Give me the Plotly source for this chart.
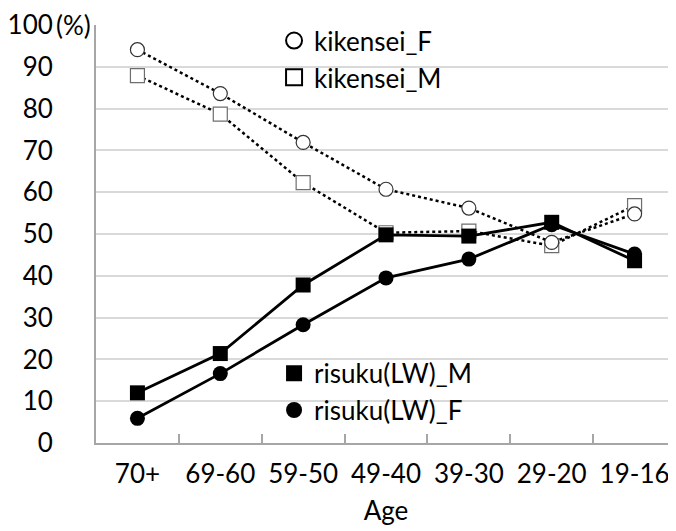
import plotly.graph_objects as go

ages = ["70+", "69-60", "59-50", "49-40", "39-30", "29-20", "19-16"]
kikensei_F = [94.1, 83.6, 71.9, 60.7, 56.2, 48.0, 54.8]
kikensei_M = [87.9, 78.7, 62.3, 50.3, 50.7, 47.2, 56.8]
risuku_M = [12.0, 21.4, 37.8, 49.8, 49.5, 52.8, 43.6]
risuku_F = [5.9, 16.6, 28.3, 39.5, 44.0, 52.2, 45.2]
y_ticks = [0, 10, 20, 30, 40, 50, 60, 70, 80, 90, 100]

FONT = "Lato"
FS = 26
fig = go.Figure()

# data traces
fig.add_trace(go.Scatter(x=ages, y=kikensei_M, mode="lines+markers", showlegend=False,
    line=dict(color="black", width=2.5, dash="dot"),
    marker=dict(symbol="square", size=14, color="white", line=dict(color="#6e6e6e", width=1.2))))
fig.add_trace(go.Scatter(x=ages, y=kikensei_F, mode="lines+markers", showlegend=False,
    line=dict(color="black", width=2.5, dash="dot"),
    marker=dict(symbol="circle", size=14, color="white", line=dict(color="#333333", width=1.2))))
fig.add_trace(go.Scatter(x=ages, y=risuku_F, mode="lines+markers", showlegend=False,
    line=dict(color="black", width=2.8),
    marker=dict(symbol="circle", size=15, color="black")))
fig.add_trace(go.Scatter(x=ages, y=risuku_M, mode="lines+markers", showlegend=False,
    line=dict(color="black", width=2.8),
    marker=dict(symbol="square", size=15, color="black")))

# legend-only entries (marker glyphs, no lines)
fig.add_trace(go.Scatter(x=[None], y=[None], mode="markers", name="kikensei_F", legend="legend",
    marker=dict(symbol="circle-open", size=20, color="black", line=dict(width=2))))
fig.add_trace(go.Scatter(x=[None], y=[None], mode="markers", name="kikensei_M", legend="legend",
    marker=dict(symbol="square-open", size=20, color="black", line=dict(width=2))))
fig.add_trace(go.Scatter(x=[None], y=[None], mode="markers", name="risuku(LW)_M", legend="legend2",
    marker=dict(symbol="square", size=20, color="black")))
fig.add_trace(go.Scatter(x=[None], y=[None], mode="markers", name="risuku(LW)_F", legend="legend2",
    marker=dict(symbol="circle", size=20, color="black")))

leg_common = dict(bgcolor="rgba(0,0,0,0)", font=dict(family=FONT, size=FS, color="black"),
                  itemsizing="trace", traceorder="normal", tracegroupgap=0,
                  xanchor="left", yanchor="top", itemwidth=30)

# the page body adds an 8px margin, so the figure is 8px smaller on each side
fig.update_layout(
    width=668, height=523,
    margin=dict(l=82, r=0, t=8, b=88),
    plot_bgcolor="white", paper_bgcolor="white",
    font=dict(family=FONT, size=FS, color="black"),
    legend=dict(x=0.307, y=1.0 + 8/427, **leg_common),
    legend2=dict(x=0.307, y=0.23 - 3/427, **leg_common),
    xaxis=dict(
        type="category", categoryorder="array", categoryarray=ages,
        range=[-0.5, 6.5],
        showgrid=False, showline=True, linecolor="#a6a6a6", linewidth=2,
        ticks="inside", tickson="boundaries", ticklen=9, tickcolor="#a6a6a6", tickwidth=1.5,
        tickfont=dict(family=FONT, size=FS, color="black"),
        ticklabelstandoff=7, ticklabeloverflow="allow",
        title=dict(text="Age", font=dict(family=FONT, size=FS, color="black"), standoff=14),
    ),
    yaxis=dict(
        range=[0, 100], tickvals=y_ticks, ticktext=[str(v) for v in y_ticks],
        showgrid=True, gridcolor="#d9d9d9", gridwidth=2,
        showline=True, linecolor="#a6a6a6", linewidth=2, zeroline=False,
        ticks="", tickfont=dict(family=FONT, size=FS, color="black"),
        ticklabelstandoff=36, ticklabeloverflow="allow",
    ),
    annotations=[dict(text="(%)", xref="paper", yref="paper", x=0, y=1,
                      xanchor="right", yanchor="middle", showarrow=False, xshift=-3,
                      font=dict(family=FONT, size=FS, color="black"))],
)

fig.write_html("out.html")
